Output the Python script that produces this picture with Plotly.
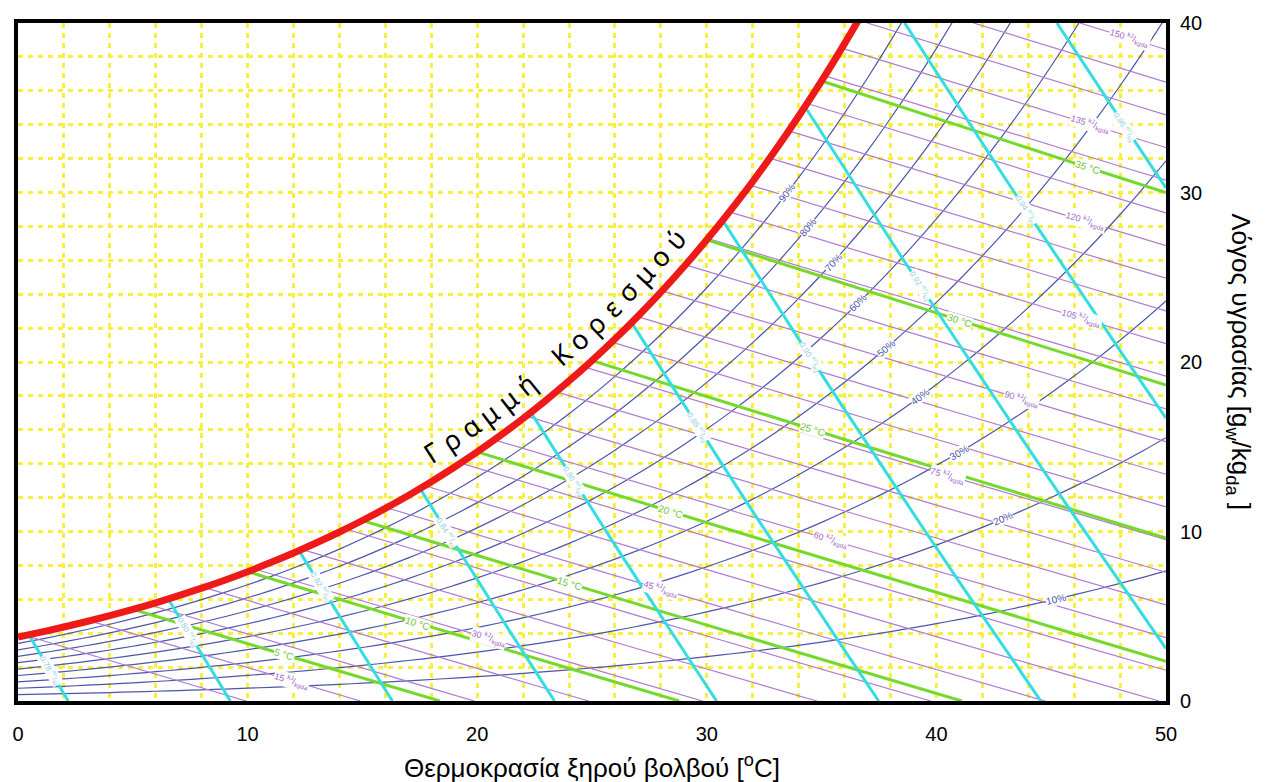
import numpy as np
import plotly.graph_objects as go

P_ATM = 101.325

# saturation vapour pressure table (kPa) used by the chart
sat_T = list(range(0, 51))
sat_p = [0.6112, 0.6571, 0.7060, 0.7581, 0.8135, 0.8725, 0.9353, 1.0020, 1.0729, 1.1481,
         1.2280, 1.3128, 1.4026, 1.4979, 1.5987, 1.7055, 1.8185, 1.9380, 2.0643, 2.1979,
         2.3389, 2.4878, 2.6448, 2.8105, 2.9852, 3.1693, 3.3633, 3.5674, 3.7823, 4.0084,
         4.2462, 4.4961, 4.7586, 5.0345, 5.3242, 5.6280, 5.9468, 6.2812, 6.6315, 6.9988,
         7.3838, 7.7866, 8.2081, 8.6495, 9.1110, 9.5935, 10.098, 10.624, 11.174, 11.748, 12.346]

rh_levels = [10, 20, 30, 40, 50, 60, 70, 80, 90]
rh_label_T = [45.2, 42.9, 41.0, 39.3, 37.8, 36.6, 35.5, 34.4, 33.5]

h_levels = [10, 15, 20, 25, 30, 35, 40, 45, 50, 55, 60, 65, 70, 75, 80, 85, 90, 95, 100,
            105, 110, 115, 120, 125, 130, 135, 140, 145, 150]
h_label_values = [15, 30, 45, 60, 75, 90, 105, 120, 135, 150]
h_label_T = [11.9, 20.5, 28.0, 35.4, 40.5, 43.7, 46.3, 46.5, 46.7, 48.4]

wb_levels = [5, 10, 15, 20, 25, 30, 35]
wb_label_T = [11.6, 17.4, 24.0, 28.4, 34.6, 41.0, 46.6]

v_levels = [0.78, 0.80, 0.82, 0.84, 0.86, 0.88, 0.90, 0.92, 0.94, 0.96]
v_label_T = [1.4, 7.4, 13.2, 18.7, 24.2, 29.6, 34.5, 39.3, 43.9, 48.2]

x_range = [0, 50]
y_range = [0, 40]
x_ticks = [0, 10, 20, 30, 40, 50]
y_ticks = [0, 10, 20, 30, 40]

title_x = "Θερμοκρασία ξηρού βολβού [<sup>o</sup>C]"
title_y = "Λόγος υγρασίας [g<sub>w</sub>/kg<sub>da</sub> ]"
sat_label = "Γραμμή Κορεσμού"

# colours
C_SAT = "#ee1a1a"
C_RH = "#4c55a8"
C_H = "#b07ad0"
C_WB = "#74d92c"
C_V = "#33dde2"
C_GRID = "#f9ee42"

# layout geometry
W, H = 1268, 782
ML, MR, MT, MB = 16, 102, 18, 81
PW, PH = W - ML - MR, H - MT - MB
SX = PW / (x_range[1] - x_range[0])
SY = PH / (y_range[1] - y_range[0])

Tt = np.array(sat_T, float)
lnp = np.log(np.array(sat_p, float))


def psat(T):
    return np.exp(np.interp(T, Tt, lnp))


def w_rh(T, phi):
    p = phi * psat(T)
    return 622.0 * p / (P_ATM - p)


def w_sat(T):
    return w_rh(T, 1.0)


def w_h(T, h):
    return 1000.0 * (h - 1.006 * T) / (2501.0 + 1.86 * T)


def w_v(T, v):
    return 1000.0 * (v * P_ATM / (0.287042 * (T + 273.15)) - 1.0) / 1.607858


def w_wb(T, tw):
    Ws = w_sat(tw) / 1000.0
    return 1000.0 * ((2501.0 - 2.326 * tw) * Ws - 1.006 * (T - tw)) / (2501.0 + 1.86 * T - 4.186 * tw)


def root(g, a, b):
    ga = g(a)
    for _ in range(60):
        m = 0.5 * (a + b)
        gm = g(m)
        if (gm > 0) == (ga > 0):
            a, ga = m, gm
        else:
            b = m
    return 0.5 * (a + b)


def span(f):
    g = lambda T: f(T) - w_sat(T)
    Ts = root(g, 0.0, 50.0) if g(0.0) > 0 else 0.0
    if f(Ts) > y_range[1]:
        Ts = root(lambda T: f(T) - y_range[1], Ts, 50.0)
    Te = root(f, Ts, 90.0) if f(50.0) < 0 else 50.0
    return Ts, min(Te, 50.0)


def seg_points(f):
    Ts, Te = span(f)
    T = Ts + (Te - Ts) * np.arange(9) / 8.0
    return T, f(T)


def angle(f, T):
    d = 0.05
    s = (f(T + d) - f(T - d)) / (2 * d)
    return -np.degrees(np.arctan2(s * SY, SX))


fig = go.Figure()

# relative humidity curves
for rh in rh_levels:
    fig.add_trace(go.Scatter(x=sat_T, y=[w_rh(t, rh / 100.0) for t in sat_T], mode="lines",
                             line=dict(color=C_RH, width=1.2, shape="spline"),
                             hoverinfo="skip", showlegend=False))

# enthalpy lines
for h in h_levels:
    f = (lambda T, h=h: w_h(T, h))
    T, w = seg_points(f)
    fig.add_trace(go.Scatter(x=T, y=w, mode="lines", line=dict(color=C_H, width=1.2),
                             hoverinfo="skip", showlegend=False))

# wet bulb lines
for tw in wb_levels:
    f = (lambda T, tw=tw: w_wb(T, tw))
    T, w = seg_points(f)
    fig.add_trace(go.Scatter(x=T, y=w, mode="lines", line=dict(color=C_WB, width=3),
                             hoverinfo="skip", showlegend=False))

# specific volume lines
for v in v_levels:
    f = (lambda T, v=v: w_v(T, v))
    T, w = seg_points(f)
    fig.add_trace(go.Scatter(x=T, y=w, mode="lines", line=dict(color=C_V, width=3),
                             hoverinfo="skip", showlegend=False))

# saturation curve
sat_x = [t for t in sat_T if t <= 38]
fig.add_trace(go.Scatter(x=sat_x, y=[w_sat(t) for t in sat_x], mode="lines",
                         line=dict(color=C_SAT, width=7, shape="spline"),
                         hoverinfo="skip", showlegend=False))

ann = []
FONT = "Liberation Sans, Arial, sans-serif"


def label(T, w, text, ang, color, size):
    ann.append(dict(x=T, y=w, xref="x", yref="y", text=text, showarrow=False,
                    textangle=ang, font=dict(family=FONT, size=size, color=color),
                    bgcolor="white", borderpad=0, xanchor="center", yanchor="middle"))


for rh, T in zip(rh_levels, rh_label_T):
    f = (lambda t, rh=rh: w_rh(t, rh / 100.0))
    label(T, f(T), f"{rh}%", angle(f, T), C_RH, 10)

for h, T in zip(h_label_values, h_label_T):
    f = (lambda t, h=h: w_h(t, h))
    label(T, f(T), f"{h} <sup>kJ</sup>/<sub>kg</sub><sub>da</sub>", angle(f, T), "#a566c8", 9)

for tw, T in zip(wb_levels, wb_label_T):
    f = (lambda t, tw=tw: w_wb(t, tw))
    label(T, f(T), f"{tw} °C", angle(f, T), "#6cc83a", 10)

for v, T in zip(v_levels, v_label_T):
    f = (lambda t, v=v: w_v(t, v))
    label(T, f(T), f"{v:.2f} <sup>m³</sup>/<sub>kg</sub>", angle(f, T), "#8fd0dc", 8)


# saturation line caption, letter by letter along the curve
def to_px(T, w):
    return ML + T * SX, MT + PH - w * SY


def from_px(x, y):
    return (x - ML) / SX, (MT + PH - y) / SY


step_px = 23.8
offset_px = 25.0
T = 18.6
x0, y0 = to_px(T, w_sat(T))
s = 0.0
targets = [k * step_px for k in range(len(sat_label))]
k = 0
while k < len(targets) and T < 40:
    T2 = T + 0.004
    x2, y2 = to_px(T2, w_sat(T2))
    ds = np.hypot(x2 - x0, y2 - y0)
    if s + ds >= targets[k]:
        ch = sat_label[k]
        if ch != " ":
            dx, dy = (x2 - x0) / ds, (y2 - y0) / ds
            px, py = x0 + offset_px * dy, y0 - offset_px * dx
            lt, lw = from_px(px, py)
            th = np.degrees(np.arctan2(-dy, dx))
            ann.append(dict(x=lt, y=lw, xref="x", yref="y", text=ch, showarrow=False,
                            textangle=-th, font=dict(family="Noto Sans, DejaVu Sans", size=27, color="black"),
                            xanchor="center", yanchor="middle"))
        k += 1
        continue
    s += ds
    T, x0, y0 = T2, x2, y2

# axis titles
ann.append(dict(x=0.5, y=-(767 - (MT + PH)) / PH, xref="paper", yref="paper", text=title_x,
                showarrow=False, font=dict(family=FONT, size=26, color="black"),
                xanchor="center", yanchor="middle"))
ann.append(dict(x=(1240 - ML) / PW, y=0.5, xref="paper", yref="paper", text=title_y,
                showarrow=False, textangle=90, font=dict(family=FONT, size=26, color="black"),
                xanchor="center", yanchor="middle"))

grid = dict(gridcolor=C_GRID, gridwidth=2.8, griddash="5px,5px")

fig.update_layout(
    width=W, height=H,
    margin=dict(l=ML, r=MR, t=MT, b=MB),
    paper_bgcolor="white", plot_bgcolor="white",
    annotations=ann,
    xaxis=dict(range=x_range, tickvals=x_ticks, showgrid=True, **grid,
               minor=dict(dtick=2, showgrid=True, **grid),
               zeroline=False, showline=True, linecolor="black", linewidth=4, mirror=True,
               ticks="", ticklabelstandoff=12,
               tickfont=dict(family=FONT, size=20, color="black")),
    yaxis=dict(range=y_range, tickvals=y_ticks, side="right", showgrid=True, **grid,
               minor=dict(dtick=2, showgrid=True, **grid),
               zeroline=False, showline=True, linecolor="black", linewidth=4, mirror=True,
               ticks="", ticklabelstandoff=6,
               tickfont=dict(family=FONT, size=20, color="black")),
)

fig.write_html("out.html")
